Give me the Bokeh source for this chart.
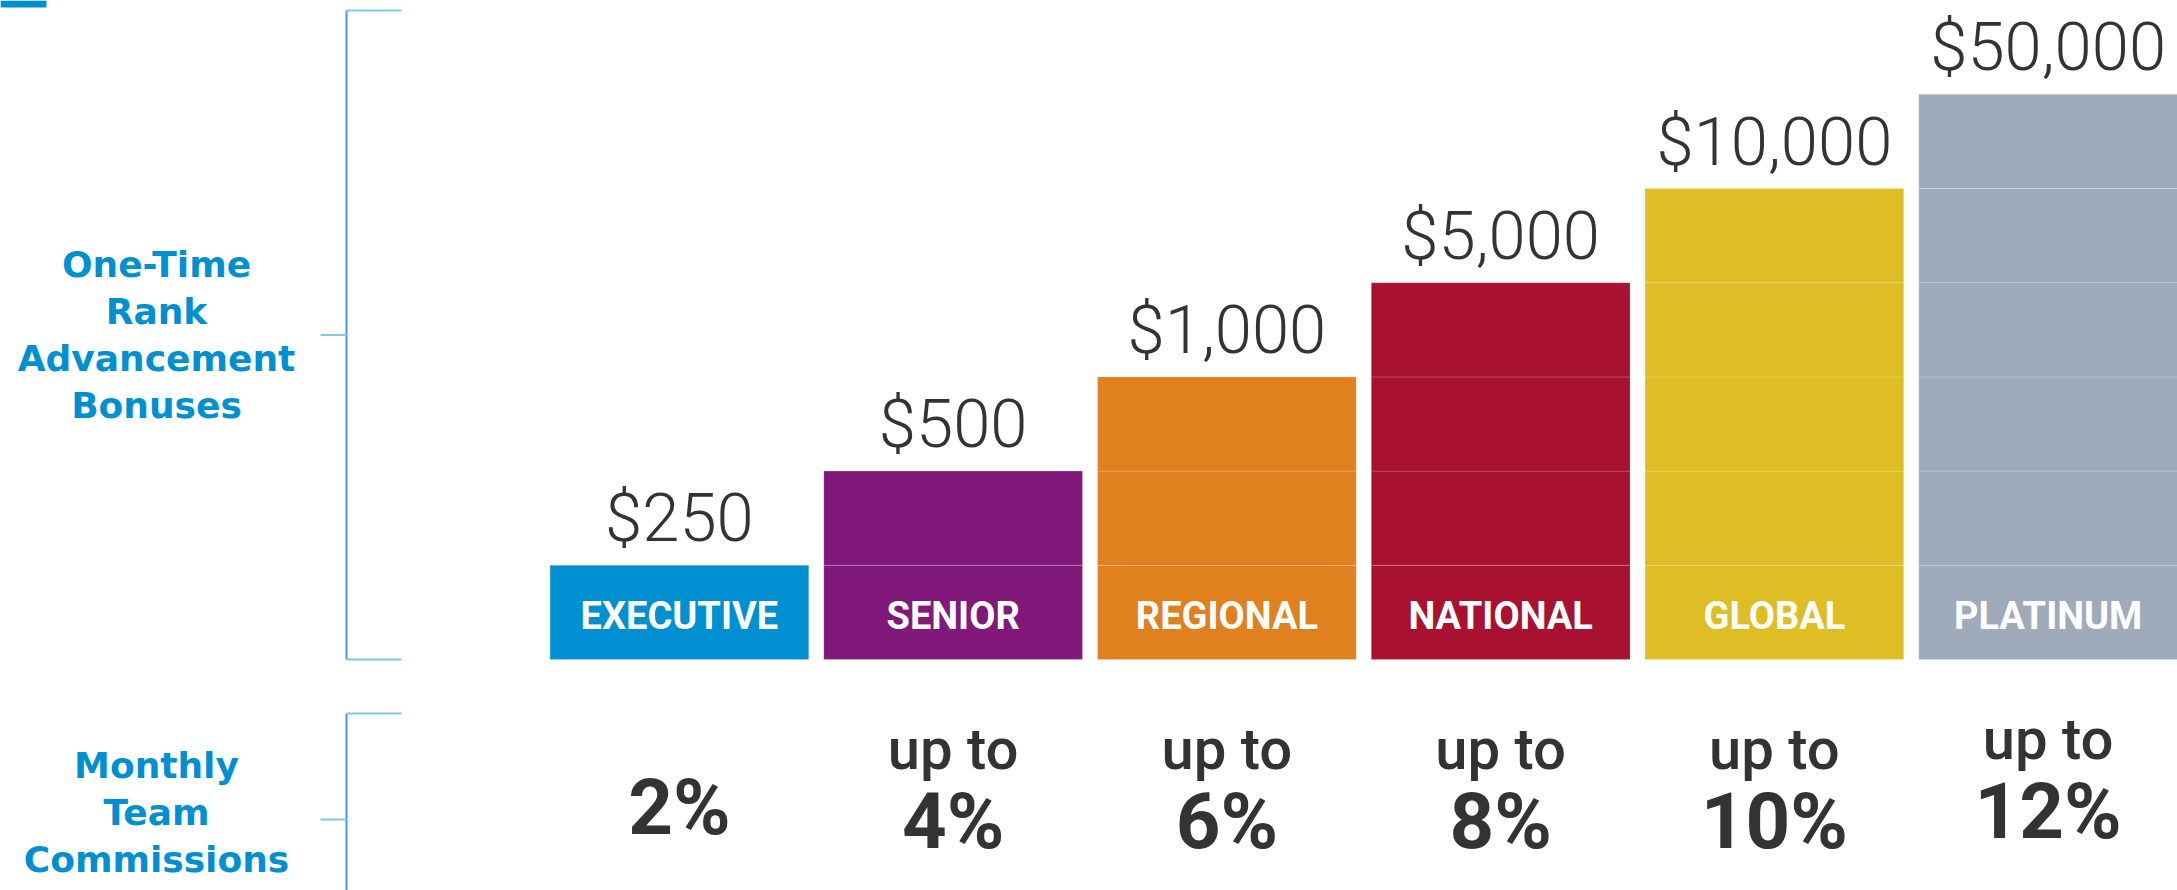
from bokeh.plotting import figure
from bokeh.models import Range1d
from bokeh.core.properties import value
from bokeh.embed import file_html
from bokeh.resources import INLINE

# ---------------- data ----------------
ranks = ["EXECUTIVE", "SENIOR", "REGIONAL", "NATIONAL", "GLOBAL", "PLATINUM"]
tiers = [1, 2, 3, 4, 5, 6]                      # bar height = rank tier
bonus_labels = ["$250", "$500", "$1,000", "$5,000", "$10,000", "$50,000"]
commission_prefix = ["", "up to", "up to", "up to", "up to", "up to"]
commission_labels = ["2%", "4%", "6%", "8%", "10%", "12%"]
bar_colors = ["#008FD1", "#81197B", "#E0801E", "#A8112F", "#DFBE25", "#9FAABA"]
group_labels_top = ["One-Time", "Rank", "Advancement", "Bonuses"]
group_labels_bottom = ["Monthly", "Team", "Commissions"]

W, H = 2177, 890
BLUE = "#0090D2"
DARK = "#333333"

# coordinate frame: x in bar-index units, y in tier units
X0, X1 = -2.48, 5.4725
Y0, Y1 = -2.452, 6.996
def px2x(px):
    return X0 + px / W * (X1 - X0)
def px2y(py):
    return Y1 - py / H * (Y1 - Y0)
unit_y = H / (Y1 - Y0)  # pixels per tier

p = figure(width=W, height=H, x_range=Range1d(X0, X1), y_range=Range1d(Y0, Y1),
           output_backend="svg", toolbar_location=None,
           x_axis_location=None, y_axis_location=None, min_border=0)
p.outline_line_color = None
p.xgrid.visible = False
p.ygrid.visible = False
p.background_fill_color = "white"
p.border_fill_color = "white"

# stacked segments (faint line at each tier boundary)
seg_x, seg_b, seg_t, seg_c = [], [], [], []
for i, (lv, c) in enumerate(zip(tiers, bar_colors)):
    for j in range(lv):
        seg_x.append(i)
        seg_b.append(j)
        seg_t.append(j + 1)
        seg_c.append(c)
p.vbar(x=seg_x, bottom=seg_b, top=seg_t, width=0.945, fill_color=seg_c,
       line_color="white", line_alpha=0.18, line_width=1)

xs = list(range(len(ranks)))

# value labels above bars
p.text(x=xs, y=[t + 47 / unit_y for t in tiers], text=bonus_labels,
       text_align="center", text_baseline="alphabetic",
       text_font=value("Roboto Light, Roboto"), text_font_size="67px",
       text_color=DARK)

# rank names inside bars
p.text(x=xs, y=[(659 - 615.5) / unit_y] * len(xs), text=ranks,
       text_align="center", text_baseline="alphabetic",
       text_font=value("Roboto"), text_font_style="bold", text_font_size="38px",
       text_color="white")

# commissions
up_x, up_y, up_t = [], [], []
pc_y = []
for i, (pre, lab) in enumerate(zip(commission_prefix, commission_labels)):
    shift = 10 / unit_y if i == len(xs) - 1 else 0
    if pre:
        up_x.append(i)
        up_y.append(px2y(748) + shift)
        up_t.append(pre)
        pc_y.append(px2y(821) + shift)
    else:
        pc_y.append(px2y(807))
p.text(x=up_x, y=up_y, text=up_t, text_align="center", text_baseline="alphabetic",
       text_font=value("Roboto Medium, Roboto"), text_font_size="58px",
       text_color=DARK)
p.text(x=xs, y=pc_y, text=commission_labels, text_align="center",
       text_baseline="alphabetic", text_font=value("Roboto"),
       text_font_style="bold", text_font_size="78px", text_color=DARK)

# left group labels
lx = px2x(156)
p.text(x=[lx] * len(group_labels_top),
       y=[px2y(264 + 47 * k) for k in range(len(group_labels_top))],
       text=group_labels_top, text_align="center", text_baseline="alphabetic",
       text_font=value("DejaVu Sans"), text_font_style="bold",
       text_font_size="36px", text_color=BLUE)
p.text(x=[lx] * len(group_labels_bottom),
       y=[px2y(765 + 47 * k) for k in range(len(group_labels_bottom))],
       text=group_labels_bottom, text_align="center", text_baseline="alphabetic",
       text_font=value("DejaVu Sans"), text_font_style="bold",
       text_font_size="36px", text_color=BLUE)

# brackets
bx = px2x(346)
bx_end = px2x(401)
tick_start = px2x(320)
LC = "#3F9FD8"
LC2 = "#86C4E6"
top1, bot1 = px2y(10), 0
p.segment(x0=[bx], y0=[top1], x1=[bx], y1=[bot1], line_color=LC, line_width=2)
p.segment(x0=[bx, bx], y0=[top1, bot1], x1=[bx_end, bx_end], y1=[top1, bot1],
          line_color=LC2, line_width=2)
p.segment(x0=[tick_start], y0=[(top1 + bot1) / 2], x1=[bx], y1=[(top1 + bot1) / 2],
          line_color=LC2, line_width=2)
top2 = px2y(713)
p.segment(x0=[bx], y0=[top2], x1=[bx], y1=[Y0], line_color=LC, line_width=2)
p.segment(x0=[bx], y0=[top2], x1=[bx_end], y1=[top2], line_color=LC2, line_width=2)
p.segment(x0=[tick_start], y0=[px2y(819)], x1=[bx], y1=[px2y(819)],
          line_color=LC2, line_width=2)

# small blue mark top-left
p.quad(left=[X0], right=[px2x(46)], top=[Y1], bottom=[px2y(7)],
       fill_color=BLUE, line_color=None)

open("out.html", "w").write(file_html(p, INLINE))
